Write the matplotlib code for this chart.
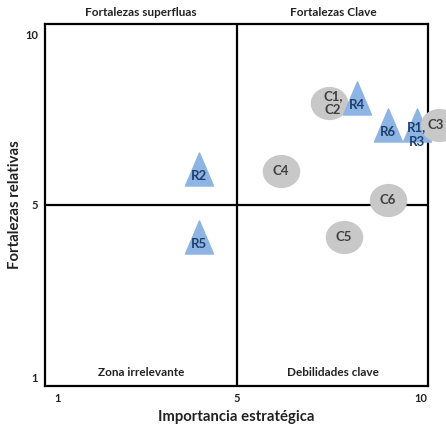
import numpy as np
import matplotlib
matplotlib.use("Agg")
import matplotlib.pyplot as plt
from matplotlib.path import Path
from matplotlib.transforms import Affine2D

plt.rcParams['font.family'] = ['Lato', 'DejaVu Sans']

# Data
circle_labels = ["C1,\nC2", "C3", "C4", "C5", "C6"]
circle_x = [7.5, 10.5, 6.2, 7.9, 9.1]
circle_y = [8.0, 7.35, 6.0, 4.25, 5.15]

tri_labels = ["R1,\nR3", "R2", "R4", "R5", "R6"]
tri_x = [9.9, 4.15, 8.25, 4.15, 9.1]
tri_y = [7.35, 6.05, 8.15, 4.25, 7.35]

ticks = [1, 5, 10]
quadrants = ["Fortalezas superfluas", "Fortalezas Clave", "Zona irrelevante", "Debilidades clave"]

# small nudges (points) for labels that are not centred on their mark
label_nudge = {"C1,\nC2": (3, 0), "C3": (-3, 0), "R1,\nR3": (-0.5, -2)}


# piecewise scale: the 1..5 part and the 5..10 part get their own lengths
def make_scale(low_len, high_len):
    def fwd(v):
        v = np.asarray(v, dtype=float)
        return np.where(v <= 5, (v - 1) / 4 * low_len, low_len + (v - 5) / 5 * high_len)

    def inv(u):
        u = np.asarray(u, dtype=float)
        return np.where(u <= low_len, 1 + 4 * u / low_len, 5 + 5 * (u - low_len) / high_len)
    return fwd, inv


tri_marker = Path([(0, 1), (-0.85, -1), (0.85, -1), (0, 1)],
                  [Path.MOVETO, Path.LINETO, Path.LINETO, Path.CLOSEPOLY])
ell_marker = Path.unit_circle().transformed(Affine2D().scale(1, 0.88))

fig = plt.figure(figsize=(4.46, 4.25), dpi=100)
ax = fig.add_axes([45 / 446, 1 - 386 / 425, 383 / 446, 362 / 425])
ax.set_xscale('function', functions=make_scale(179, 184))
ax.set_yscale('function', functions=make_scale(173, 170))
ax.set_xlim(0.71, 10.19)
ax.set_ylim(0.815, 10.32)

ax.axvline(5, color='black', lw=1.6, zorder=1)
ax.axhline(5, color='black', lw=1.6, zorder=1)
for s in ax.spines.values():
    s.set_linewidth(1.6)
    s.set_color('black')

# draw points left to right so the later ones sit on top
points = [(x, y, lab, 'c') for x, y, lab in zip(circle_x, circle_y, circle_labels)]
points += [(x, y, lab, 't') for x, y, lab in zip(tri_x, tri_y, tri_labels)]
points.sort(key=lambda p: p[0])

z = 3
for x, y, lab, kind in points:
    dx, dy = label_nudge.get(lab, (0, 0))
    if kind == 'c':
        ax.plot(x, y, marker=ell_marker, ms=26, color='#c8c8c8', ls='none',
                clip_on=False, zorder=z)
        ax.annotate(lab, (x, y), xytext=(dx, dy), textcoords='offset points',
                    ha='center', va='center', fontsize=9.5,
                    fontweight='bold', color='#404040', linespacing=1.25,
                    annotation_clip=False, zorder=20)
    else:
        ax.plot(x, y, marker=tri_marker, ms=23.8, color='#8db4e2', ls='none',
                clip_on=False, zorder=z)
        ax.annotate(lab, (x, y), xytext=(dx, dy - 5), textcoords='offset points',
                    ha='center', va='center', fontsize=9.5, fontweight='bold',
                    color='#1f3f6e', linespacing=1.25,
                    annotation_clip=False, zorder=20)
    z += 1

ax.set_xticks(ticks)
ax.set_yticks(ticks)
ax.set_xticklabels([str(t) for t in ticks], fontsize=8, fontweight='bold')
ax.set_yticklabels([str(t) for t in ticks], fontsize=8, fontweight='bold')
ax.tick_params(length=0, pad=5, colors='#222222')
ax.minorticks_off()

ax.text(0.251, 1.033, quadrants[0], transform=ax.transAxes, ha='center', va='center',
        fontsize=8.5, fontweight='bold', color='#222222')
ax.text(0.752, 1.033, quadrants[1], transform=ax.transAxes, ha='center', va='center',
        fontsize=8.5, fontweight='bold', color='#222222')
ax.text(0.251, 0.036, quadrants[2], transform=ax.transAxes, ha='center', va='center',
        fontsize=8.5, fontweight='bold', color='#222222')
ax.text(0.752, 0.036, quadrants[3], transform=ax.transAxes, ha='center', va='center',
        fontsize=8.5, fontweight='bold', color='#222222')

ax.set_xlabel("Importancia estratégica", fontsize=10.7, fontweight='bold', color='#222222')
ax.set_ylabel("Fortalezas relativas", fontsize=10.7, fontweight='bold', color='#222222')
ax.xaxis.set_label_coords(0.499, -0.066)
ax.yaxis.set_label_coords(-0.06, 0.5)

fig.savefig("out.png", dpi=100)
